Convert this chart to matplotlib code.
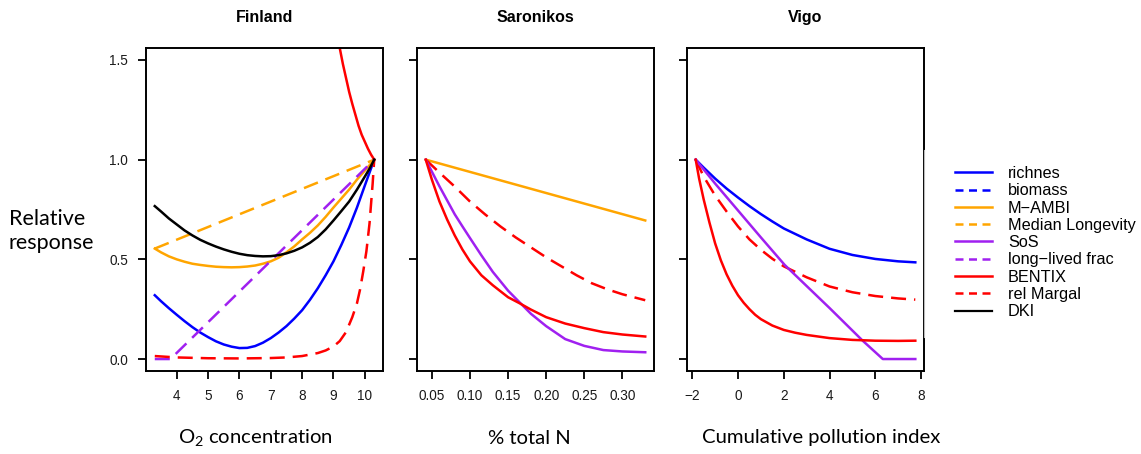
import matplotlib
matplotlib.use('Agg')
import matplotlib.pyplot as plt
from matplotlib.patches import Rectangle
from matplotlib.lines import Line2D

plt.rcParams['mathtext.fontset'] = 'custom'
plt.rcParams['mathtext.rm'] = 'Lato'
plt.rcParams['mathtext.it'] = 'Lato:italic'
plt.rcParams['mathtext.bf'] = 'Lato:bold'

# ---------------- data ----------------
panel_titles = ["Finland", "Saronikos", "Vigo"]
x_labels = ["O$_2$ concentration", "% total N", "Cumulative pollution index"]
legend_labels = ["richnes", "biomass", "M\u2212AMBI", "Median Longevity", "SoS",
                 "long\u2212lived frac", "BENTIX", "rel Margal", "DKI"]

# Finland (O2 concentration)
fin_x = [3.3, 3.5, 3.75, 4.0, 4.25, 4.5, 4.75, 5.0, 5.25, 5.5, 5.75, 6.0, 6.25, 6.5, 6.75,
         7.0, 7.25, 7.5, 7.75, 8.0, 8.25, 8.5, 8.75, 9.0, 9.25, 9.5, 9.75, 10.0, 10.15, 10.3]
fin_richnes = [0.32, 0.29, 0.255, 0.222, 0.19, 0.16, 0.133, 0.11, 0.089, 0.073, 0.062, 0.055, 0.056, 0.065, 0.082,
               0.105, 0.133, 0.165, 0.203, 0.245, 0.297, 0.355, 0.42, 0.49, 0.572, 0.66, 0.76, 0.87, 0.935, 1.0]
fin_mambi = [0.554, 0.535, 0.515, 0.50, 0.488, 0.478, 0.472, 0.467, 0.463, 0.461, 0.46, 0.461, 0.464, 0.469, 0.478,
             0.49, 0.508, 0.535, 0.565, 0.60, 0.633, 0.67, 0.713, 0.76, 0.805, 0.85, 0.90, 0.945, 0.972, 1.0]
fin_dki = [0.767, 0.74, 0.705, 0.675, 0.645, 0.62, 0.598, 0.58, 0.564, 0.55, 0.538, 0.528, 0.521, 0.517, 0.515,
           0.516, 0.521, 0.53, 0.543, 0.56, 0.583, 0.612, 0.65, 0.695, 0.742, 0.79, 0.85, 0.915, 0.955, 1.0]
fin_longevity_x = [3.3, 10.3]
fin_longevity = [0.554, 1.0]
fin_longlived_x = [3.3, 3.8, 10.3]
fin_longlived = [0.0, 0.0, 1.0]
fin_margal_x = [3.3, 4.0, 5.0, 6.0, 7.0, 7.5, 8.0, 8.5, 8.75, 9.0, 9.2, 9.4, 9.6, 9.75, 9.85,
                9.95, 10.05, 10.15, 10.25, 10.3]
fin_margal = [0.015, 0.008, 0.004, 0.003, 0.005, 0.008, 0.015, 0.03, 0.043, 0.063, 0.09, 0.135, 0.21, 0.28, 0.35,
              0.44, 0.54, 0.68, 0.88, 1.0]
fin_bentix_x = [9.0, 9.1, 9.2, 9.3, 9.4, 9.5, 9.6, 9.7, 9.8, 9.9, 10.0, 10.1, 10.2, 10.3]
fin_bentix = [1.72, 1.64, 1.56, 1.48, 1.41, 1.34, 1.28, 1.225, 1.17, 1.125, 1.09, 1.055, 1.025, 1.0]

# Saronikos (% total N)
sar_x = [0.042, 0.05, 0.06, 0.07, 0.08, 0.09, 0.10, 0.115, 0.13, 0.15, 0.166, 0.18, 0.20, 0.225, 0.25, 0.275, 0.30, 0.33]
sar_bentix = [1.0, 0.90, 0.79, 0.70, 0.62, 0.55, 0.49, 0.42, 0.37, 0.31, 0.278, 0.248, 0.21, 0.178, 0.155, 0.135, 0.123, 0.113]
sar_sos = [1.0, 0.94, 0.866, 0.796, 0.726, 0.666, 0.607, 0.52, 0.437, 0.343, 0.281, 0.227, 0.165, 0.10, 0.066, 0.045, 0.038, 0.034]
sar_margal_x = [0.042, 0.06, 0.08, 0.10, 0.12, 0.14, 0.16, 0.18, 0.20, 0.22, 0.24, 0.26, 0.28, 0.30, 0.33]
sar_margal = [1.0, 0.935, 0.865, 0.79, 0.725, 0.665, 0.61, 0.56, 0.51, 0.465, 0.42, 0.38, 0.35, 0.325, 0.295]
sar_mambi_x = [0.042, 0.33]
sar_mambi = [1.0, 0.695]

# Vigo (cumulative pollution index)
vig_x = [-1.85, -1.5, -1.0, -0.5, 0.0, 0.5, 1.0, 1.5, 2.0, 3.0, 4.0, 5.0, 6.0, 7.0, 7.75]
vig_richnes = [1.0, 0.96, 0.905, 0.855, 0.81, 0.767, 0.727, 0.69, 0.655, 0.60, 0.553, 0.522, 0.502, 0.49, 0.485]
vig_margal = [1.0, 0.915, 0.82, 0.74, 0.665, 0.60, 0.548, 0.503, 0.465, 0.41, 0.364, 0.335, 0.316, 0.304, 0.298]
vig_bentix_x = [-1.85, -1.7, -1.5, -1.25, -1.0, -0.75, -0.5, -0.25, 0.0, 0.25, 0.5, 0.75, 1.0, 1.5, 2.0,
                2.5, 3.0, 4.0, 5.0, 6.0, 7.0, 7.75]
vig_bentix = [1.0, 0.905, 0.80, 0.685, 0.58, 0.495, 0.425, 0.368, 0.32, 0.282, 0.25, 0.222, 0.20, 0.168, 0.146,
              0.132, 0.121, 0.105, 0.096, 0.092, 0.091, 0.092]
vig_sos_x = [-1.85, -1.0, 0.0, 1.0, 2.04, 4.0, 5.45, 6.33, 7.75]
vig_sos = [1.0, 0.88, 0.745, 0.61, 0.472, 0.256, 0.092, 0.0, 0.0]

# ---------------- styling ----------------
BLUE, ORANGE, PURPLE, RED, BLACK = "#0000FF", "#FFA500", "#A020F0", "#FF0000", "#000000"
LW = 1.8
DASH = (0, (6, 3.2))
TICKFONT = "Liberation Sans"
TEXTFONT = "Lato"

W, H = 1141, 454
fig = plt.figure(figsize=(W / 100, H / 100), dpi=100)

def fx(px):
    return px / W

def fy(py):
    return 1 - py / H

ax_lefts = [146, 417, 687]
ax_w = 237
ax_top, ax_bot = 48, 371
axes = []
for l in ax_lefts:
    axes.append(fig.add_axes([fx(l), fy(ax_bot), ax_w / W, (ax_bot - ax_top) / H]))

# Finland
a = axes[0]
a.plot(fin_x, fin_richnes, color=BLUE, lw=LW)
a.plot(fin_x, fin_mambi, color=ORANGE, lw=LW)
a.plot(fin_longevity_x, fin_longevity, color=ORANGE, lw=LW, ls=DASH)
a.plot(fin_longlived_x, fin_longlived, color=PURPLE, lw=LW, ls=DASH)
a.plot(fin_bentix_x, fin_bentix, color=RED, lw=LW)
a.plot(fin_margal_x, fin_margal, color=RED, lw=LW, ls=DASH)
a.plot(fin_x, fin_dki, color=BLACK, lw=LW)
a.set_xlim(3.02, 10.58)
a.set_xticks([4, 5, 6, 7, 8, 9, 10])

# Saronikos
a = axes[1]
a.plot(sar_mambi_x, sar_mambi, color=ORANGE, lw=LW)
a.plot(sar_margal_x, sar_margal, color=RED, lw=LW, ls=DASH)
a.plot(sar_x, sar_sos, color=PURPLE, lw=LW)
a.plot(sar_x, sar_bentix, color=RED, lw=LW)
a.set_xlim(0.0305, 0.3415)
a.set_xticks([0.05, 0.10, 0.15, 0.20, 0.25, 0.30])
a.set_xticklabels(["0.05", "0.10", "0.15", "0.20", "0.25", "0.30"])

# Vigo
a = axes[2]
a.plot(vig_x, vig_richnes, color=BLUE, lw=LW)
a.plot(vig_x, vig_margal, color=RED, lw=LW, ls=DASH)
a.plot(vig_sos_x, vig_sos, color=PURPLE, lw=LW)
a.plot(vig_bentix_x, vig_bentix, color=RED, lw=LW)
a.set_xlim(-2.23, 8.13)
a.set_xticks([-2, 0, 2, 4, 6, 8])
a.set_xticklabels(["\u22122", "0", "2", "4", "6", "8"])

for i, a in enumerate(axes):
    a.set_ylim(-0.06, 1.56)
    a.set_yticks([0.0, 0.5, 1.0, 1.5])
    if i == 0:
        a.set_yticklabels(["0.0", "0.5", "1.0", "1.5"])
    else:
        a.set_yticklabels([])
    for s in a.spines.values():
        s.set_linewidth(1.4)
    a.tick_params(direction='out', length=6, width=1.3, pad=7, labelsize=9.8)
    for lab in a.get_xticklabels() + a.get_yticklabels():
        lab.set_fontfamily(TICKFONT)
        lab.set_color("#1a1a1a")
    a.set_title(panel_titles[i], fontsize=11.5, fontweight='bold', fontfamily=TICKFONT, pad=19)

# x labels
xl_centers = [255, 529, 821]
for c, t in zip(xl_centers, x_labels):
    fig.text(fx(c), fy(438), t, ha='center', va='center', fontsize=14.6, fontfamily=TEXTFONT)

# y label
fig.text(fx(9), fy(231), "Relative\nresponse", ha='left', va='center', fontsize=15.5,
         fontfamily=TEXTFONT, linespacing=1.3)

# white block over right spine of the last panel (as in the reference)
fig.add_artist(Rectangle((fx(923.5), fy(337)), fx(1141 - 923.5), (337 - 150) / H,
                         transform=fig.transFigure, facecolor='white', edgecolor='none', zorder=5))
fig.add_artist(Line2D([fx(924), fx(924)], [fy(337), fy(150)], transform=fig.transFigure,
                      color="#bbbbbb", lw=0.8, zorder=6))

# legend
styles = [(BLUE, '-'), (BLUE, DASH), (ORANGE, '-'), (ORANGE, DASH), (PURPLE, '-'),
          (PURPLE, DASH), (RED, '-'), (RED, DASH), (BLACK, '-')]
handles = [Line2D([], [], color=c, ls=(ls if ls == '-' else (0, (3.2, 2.2))),
                  lw=LW if c != BLACK else 1.6) for c, ls in styles]
leg = fig.legend(handles, legend_labels, loc='upper left', bbox_to_anchor=(fx(955), fy(166)),
                 frameon=False, borderpad=0, borderaxespad=0, handlelength=2.25,
                 handletextpad=1.0, labelspacing=0.14,
                 prop={'family': TICKFONT, 'size': 11.7})
leg.set_zorder(10)

fig.savefig("out.png", dpi=100)
